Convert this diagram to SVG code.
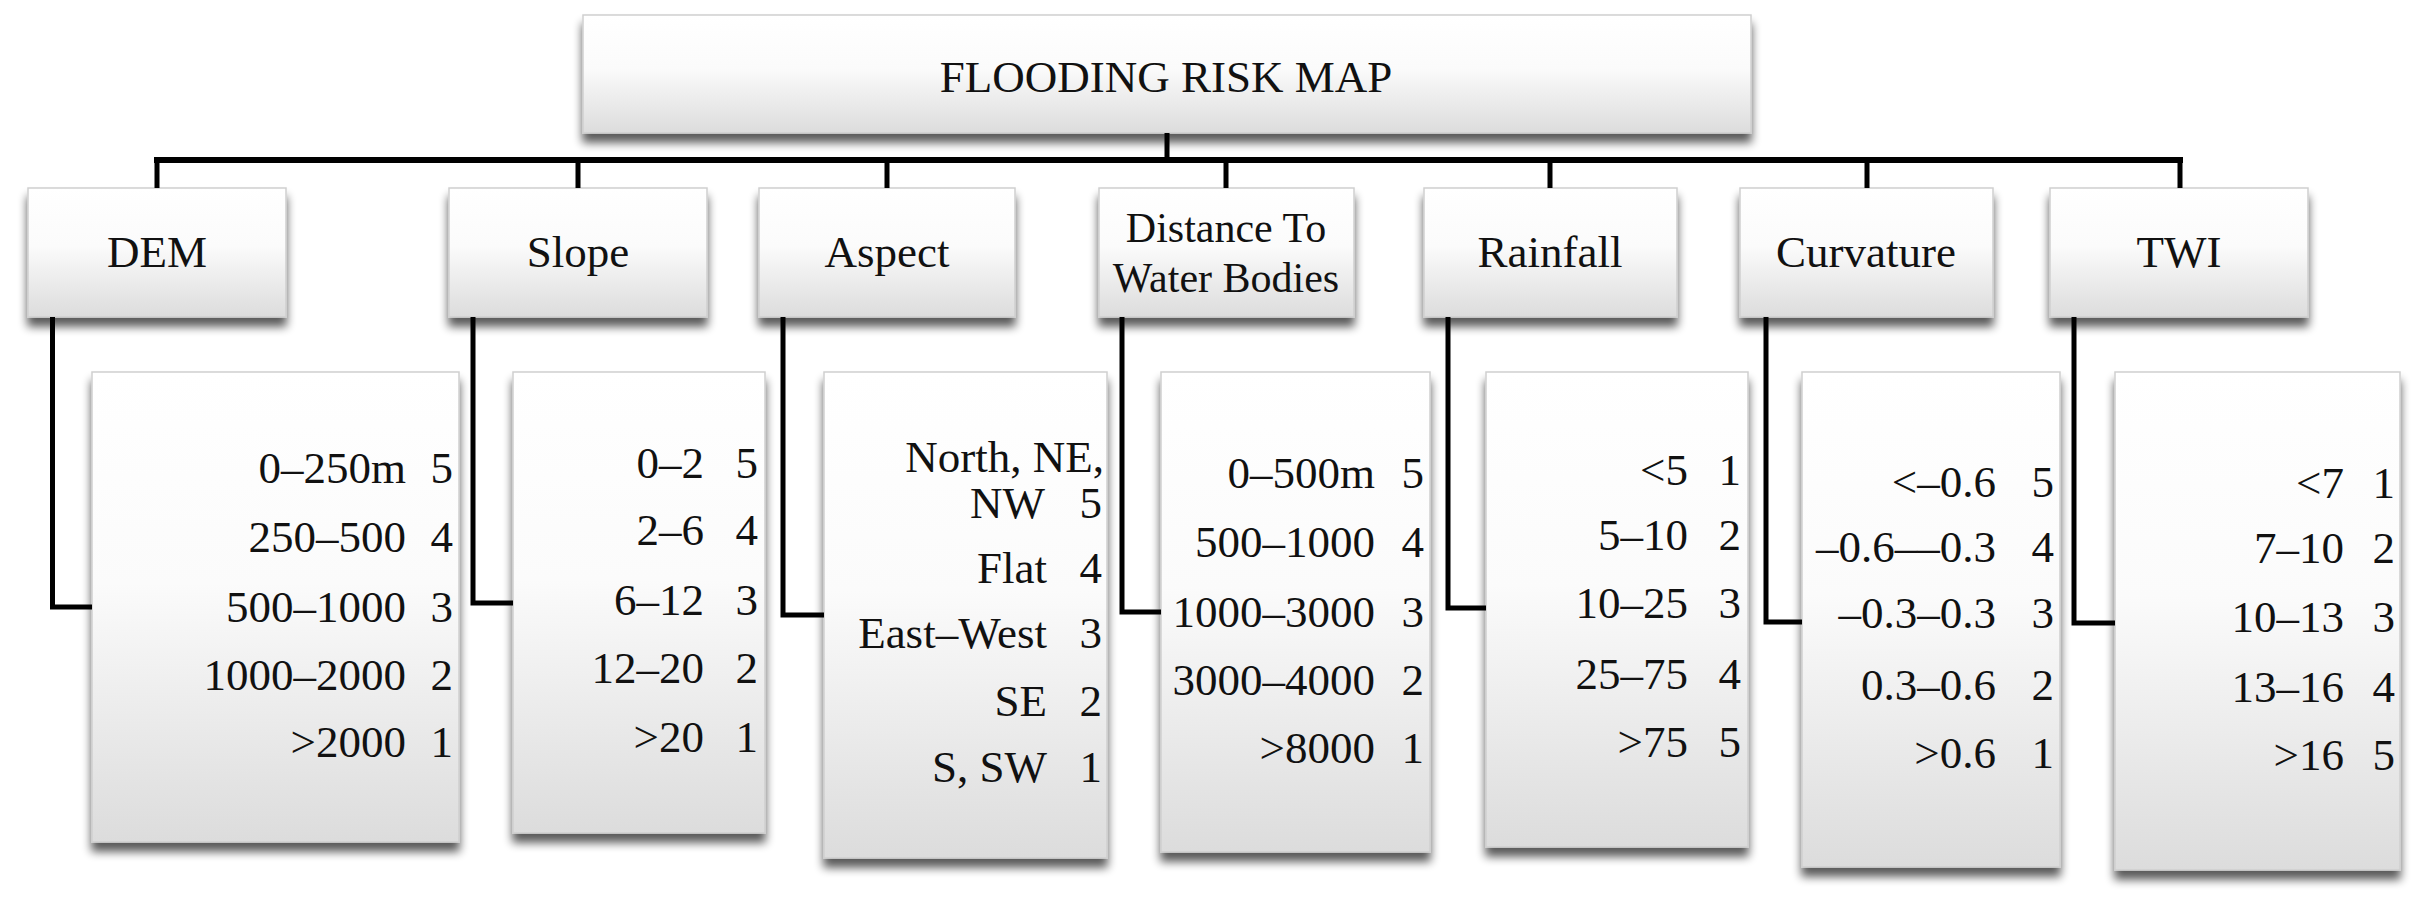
<svg xmlns="http://www.w3.org/2000/svg" width="2428" height="903" viewBox="0 0 2428 903">
<defs>
<linearGradient id="g" x1="0" y1="0" x2="0" y2="1">
<stop offset="0" stop-color="#ffffff"/>
<stop offset="0.45" stop-color="#fbfbfb"/>
<stop offset="1" stop-color="#dcdcdc"/>
</linearGradient>
<filter id="sh" x="-10%" y="-10%" width="120%" height="130%">
<feGaussianBlur in="SourceAlpha" stdDeviation="5"/>
<feOffset dx="0" dy="9" result="o"/>
<feComponentTransfer><feFuncA type="linear" slope="0.65"/></feComponentTransfer>
<feMerge><feMergeNode/><feMergeNode in="SourceGraphic"/></feMerge>
</filter>
</defs>
<style>
.box{fill:url(#g);stroke:#cfcfcf;stroke-width:1.5;filter:url(#sh)}
text{font-family:"Liberation Serif","Times New Roman",serif;font-size:45px;fill:#111}
.c{text-anchor:middle}
.r{text-anchor:end}
.s{font-size:42px}
.ln{fill:none;stroke:#000;stroke-width:5;stroke-linejoin:miter}
.bus{fill:none;stroke:#000;stroke-width:6}
</style>
<rect width="2428" height="903" fill="#fff"/>

<g id="root">
<rect class="box" x="583" y="15" width="1168" height="118"/>
<text class="c" x="1166" y="92">FLOODING RISK MAP</text>
</g>

<g id="dem">
<rect class="box" x="28" y="188" width="258" height="129"/>
<text class="c" x="157" y="267">DEM</text>
</g>
<g id="slope">
<rect class="box" x="449" y="188" width="258" height="129"/>
<text class="c" x="578" y="267">Slope</text>
</g>
<g id="aspect">
<rect class="box" x="759" y="188" width="256" height="129"/>
<text class="c" x="887" y="267">Aspect</text>
</g>
<g id="distance">
<rect class="box" x="1099" y="188" width="255" height="129"/>
<text class="c s" x="1226" y="242">Distance To</text>
<text class="c s" x="1226" y="292">Water Bodies</text>
</g>
<g id="rainfall">
<rect class="box" x="1424" y="188" width="253" height="129"/>
<text class="c" x="1550" y="267">Rainfall</text>
</g>
<g id="curvature">
<rect class="box" x="1740" y="188" width="253" height="129"/>
<text class="c" x="1866" y="267">Curvature</text>
</g>
<g id="twi">
<rect class="box" x="2050" y="188" width="258" height="129"/>
<text class="c" x="2179" y="267">TWI</text>
</g>

<g id="dem-classes">
<rect class="box" x="92" y="372" width="367" height="470"/>
<text class="r"><tspan x="406" y="483">0–250m</tspan><tspan x="453" y="483"> 5</tspan></text>
<text class="r"><tspan x="406" y="552">250–500</tspan><tspan x="453" y="552"> 4</tspan></text>
<text class="r"><tspan x="406" y="622">500–1000</tspan><tspan x="453" y="622"> 3</tspan></text>
<text class="r"><tspan x="406" y="690">1000–2000</tspan><tspan x="453" y="690"> 2</tspan></text>
<text class="r"><tspan x="406" y="757">&gt;2000</tspan><tspan x="453" y="757"> 1</tspan></text>
</g>
<g id="slope-classes">
<rect class="box" x="513" y="372" width="252" height="461"/>
<text class="r"><tspan x="704" y="478">0–2</tspan><tspan x="758" y="478"> 5</tspan></text>
<text class="r"><tspan x="704" y="545">2–6</tspan><tspan x="758" y="545"> 4</tspan></text>
<text class="r"><tspan x="704" y="615">6–12</tspan><tspan x="758" y="615"> 3</tspan></text>
<text class="r"><tspan x="704" y="683">12–20</tspan><tspan x="758" y="683"> 2</tspan></text>
<text class="r"><tspan x="704" y="752">&gt;20</tspan><tspan x="758" y="752"> 1</tspan></text>
</g>
<g id="aspect-classes">
<rect class="box" x="824" y="372" width="283" height="486"/>
<text class="r" x="1104" y="472">North, NE,</text>
<text class="r"><tspan x="1045" y="518">NW</tspan><tspan x="1102" y="518"> 5</tspan></text>
<text class="r"><tspan x="1047" y="583">Flat</tspan><tspan x="1102" y="583"> 4</tspan></text>
<text class="r"><tspan x="1047" y="648">East–West</tspan><tspan x="1102" y="648"> 3</tspan></text>
<text class="r"><tspan x="1047" y="716">SE</tspan><tspan x="1102" y="716"> 2</tspan></text>
<text class="r"><tspan x="1047" y="782">S, SW</tspan><tspan x="1102" y="782"> 1</tspan></text>
</g>
<g id="distance-classes">
<rect class="box" x="1161" y="372" width="269" height="480"/>
<text class="r"><tspan x="1375" y="488">0–500m</tspan><tspan x="1424" y="488"> 5</tspan></text>
<text class="r"><tspan x="1375" y="557">500–1000</tspan><tspan x="1424" y="557"> 4</tspan></text>
<text class="r"><tspan x="1375" y="627">1000–3000</tspan><tspan x="1424" y="627"> 3</tspan></text>
<text class="r"><tspan x="1375" y="695">3000–4000</tspan><tspan x="1424" y="695"> 2</tspan></text>
<text class="r"><tspan x="1375" y="763">&gt;8000</tspan><tspan x="1424" y="763"> 1</tspan></text>
</g>
<g id="rainfall-classes">
<rect class="box" x="1486" y="372" width="262" height="475"/>
<text class="r"><tspan x="1688" y="485">&lt;5</tspan><tspan x="1741" y="485"> 1</tspan></text>
<text class="r"><tspan x="1688" y="550">5–10</tspan><tspan x="1741" y="550"> 2</tspan></text>
<text class="r"><tspan x="1688" y="618">10–25</tspan><tspan x="1741" y="618"> 3</tspan></text>
<text class="r"><tspan x="1688" y="689">25–75</tspan><tspan x="1741" y="689"> 4</tspan></text>
<text class="r"><tspan x="1688" y="757">&gt;75</tspan><tspan x="1741" y="757"> 5</tspan></text>
</g>
<g id="curvature-classes">
<rect class="box" x="1802" y="372" width="258" height="495"/>
<text class="r"><tspan x="1996" y="497">&lt;–0.6</tspan><tspan x="2054" y="497"> 5</tspan></text>
<text class="r"><tspan x="1996" y="562">–0.6––0.3</tspan><tspan x="2054" y="562"> 4</tspan></text>
<text class="r"><tspan x="1996" y="628">–0.3–0.3</tspan><tspan x="2054" y="628"> 3</tspan></text>
<text class="r"><tspan x="1996" y="700">0.3–0.6</tspan><tspan x="2054" y="700"> 2</tspan></text>
<text class="r"><tspan x="1996" y="768">&gt;0.6</tspan><tspan x="2054" y="768"> 1</tspan></text>
</g>
<g id="twi-classes">
<rect class="box" x="2115" y="372" width="285" height="498"/>
<text class="r"><tspan x="2344" y="498">&lt;7</tspan><tspan x="2395" y="498"> 1</tspan></text>
<text class="r"><tspan x="2344" y="563">7–10</tspan><tspan x="2395" y="563"> 2</tspan></text>
<text class="r"><tspan x="2344" y="632">10–13</tspan><tspan x="2395" y="632"> 3</tspan></text>
<text class="r"><tspan x="2344" y="702">13–16</tspan><tspan x="2395" y="702"> 4</tspan></text>
<text class="r"><tspan x="2344" y="770">&gt;16</tspan><tspan x="2395" y="770"> 5</tspan></text>
</g>

<g id="connectors">
<path class="bus" d="M154 160 H2183"/>
<path class="ln" d="M1167 133 V160 M157 160 V188 M578 160 V188 M887 160 V188 M1226 160 V188 M1550 160 V188 M1867 160 V188 M2180 160 V188"/>
<path class="ln" d="M52.5 317 V607 H92"/>
<path class="ln" d="M473 317 V603 H513"/>
<path class="ln" d="M783 317 V615 H824"/>
<path class="ln" d="M1122 317 V612 H1161"/>
<path class="ln" d="M1448 317 V608 H1486"/>
<path class="ln" d="M1766 317 V622 H1802"/>
<path class="ln" d="M2074 317 V623 H2115"/>
</g>
</svg>
